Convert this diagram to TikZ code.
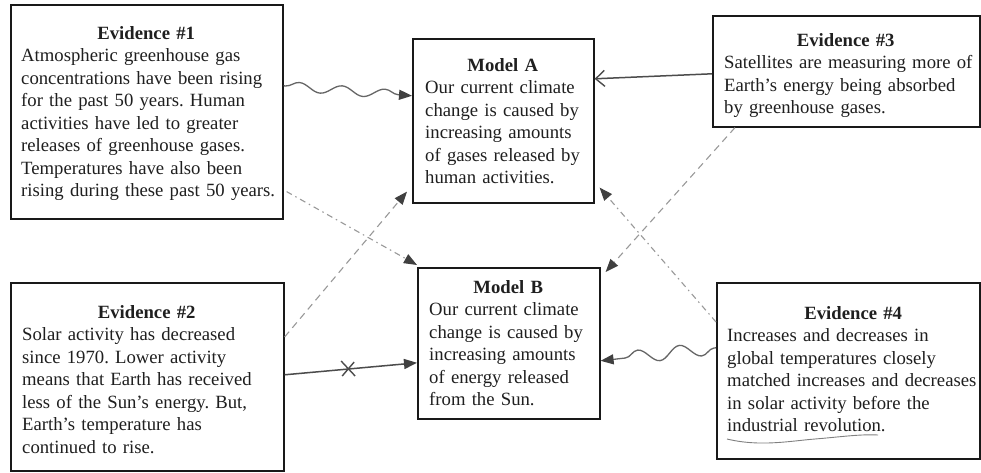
\documentclass[tikz,border=0pt]{standalone}
\usepackage{fontspec}
\setmainfont{Liberation Serif}
\usetikzlibrary{arrows.meta,decorations.pathmorphing,calc}
\begin{document}
\frenchspacing
\begin{tikzpicture}[x=1pt,y=-1pt,
  box/.style={draw=black!90, line width=1.6pt, rectangle, inner sep=0pt, anchor=north west},
  txt/.style={anchor=north west, text width=300pt, align=left, inner sep=0pt, text=black!88, font=\fontsize{18.7}{22.5}\selectfont\frenchspacing},
  tip/.style={-{Triangle[length=13pt,width=10pt,color=black!75,fill=black!75]}},
  wave/.style={draw=black!60, line width=1.3pt, tip, decorate},
  solidc/.style={draw=black!70, line width=1.5pt},
  dashc/.style={draw=black!40, line width=1.1pt, dash pattern=on 7pt off 5pt, tip},
  dotc/.style={draw=black!40, line width=1.1pt, dash pattern=on 6pt off 4pt on 1.5pt off 4pt, tip}
]
\useasboundingbox (0,0) rectangle (981,473);
\fill[white] (0,0) rectangle (981,473);

% boxes
\node[box, minimum width=272pt, minimum height=214pt] (e1) at (10,4) {};
\node[box, minimum width=181pt, minimum height=164pt] (ma) at (412,38) {};
\node[box, minimum width=267pt, minimum height=111pt] (e3) at (712,15) {};
\node[box, minimum width=273pt, minimum height=188pt] (e2) at (10,282) {};
\node[box, minimum width=182pt, minimum height=151pt] (mb) at (417,267) {};
\node[box, minimum width=263pt, minimum height=176pt] (e4) at (716,282) {};

% texts
\node[txt] (e1t) at ([xshift=11pt,yshift=-19.5pt]e1.north west) {\strut\makebox[250pt][c]{\textbf{Evidence \#1}}\\
Atmospheric greenhouse gas\\
concentrations have been rising\\
for the past 50 years. Human\\
activities have led to greater\\
releases of greenhouse gases.\\
Temperatures have also been\\
rising during these past 50 years.};

\node[txt] (mat) at ([xshift=13pt,yshift=-17.5pt]ma.north west) {\strut\makebox[155pt][c]{\textbf{Model A}}\\
Our current climate\\
change is caused by\\
increasing amounts\\
of gases released by\\
human activities.};

\node[txt] (e3t) at ([xshift=12pt,yshift=-15.5pt]e3.north west) {\strut\makebox[243pt][c]{\textbf{Evidence \#3}}\\
Satellites are measuring more of\\
Earth’s energy being absorbed\\
by greenhouse gases.};

\node[txt] (e2t) at ([xshift=12pt,yshift=-20.5pt]e2.north west) {\strut\makebox[249pt][c]{\textbf{Evidence \#2}}\\
Solar activity has decreased\\
since 1970. Lower activity\\
means that Earth has received\\
less of the Sun’s energy. But,\\
Earth’s temperature has\\
continued to rise.};

\node[txt] (mbt) at ([xshift=12pt,yshift=-10.5pt]mb.north west) {\strut\makebox[158pt][c]{\textbf{Model B}}\\
Our current climate\\
change is caused by\\
increasing amounts\\
of energy released\\
from the Sun.};

\node[txt] (e4t) at ([xshift=11pt,yshift=-21.5pt]e4.north west) {\strut\makebox[252pt][c]{\textbf{Evidence \#4}}\\
Increases and decreases in\\
global temperatures closely\\
matched increases and decreases\\
in solar activity before the\\
industrial revolution.};

% wavy underline
\draw[black!50, line width=0.9pt] (727,439) .. controls (760,447) and (790,441) .. (815,439) .. controls (840,437) and (860,434) .. (878,435);

% connectors
\draw[wave, decoration={snake, segment length=43pt, amplitude=4.5pt, pre length=2pt, post length=8pt}]
  ([yshift=26pt]e1.east) -- ([yshift=25pt]ma.west);
\draw[wave, decoration={snake, segment length=42pt, amplitude=6.5pt, pre length=2pt, post length=8pt}]
  ([yshift=23pt]e4.west) -- ([yshift=-17.5pt]mb.east);

\draw[dotc] ([xshift=3pt,yshift=28pt]e1.south east) -- ([yshift=2pt]mb.north west);
\draw[dashc] ([yshift=-55pt]e2.north east) -- ([xshift=-5pt,yshift=12pt]ma.south west);
\draw[dashc] ([xshift=23pt]e3.south west) -- ([xshift=5pt,yshift=-5pt]mb.north east);
\draw[dotc] ([yshift=-40pt]e4.north west) -- ([xshift=5pt,yshift=16pt]ma.south east);

\draw[solidc, tip] ([yshift=2pt]e2.east) -- coordinate[pos=0.48] (xm) ([yshift=-19.5pt]mb.west);
\draw[black!70, line width=1.4pt] ([xshift=-7pt,yshift=8pt]xm) -- ([xshift=7pt,yshift=-7pt]xm)
  ([xshift=-6pt,yshift=-7pt]xm) -- ([xshift=6pt,yshift=7pt]xm);
\draw[solidc, -{Straight Barb[length=9pt,width=16pt,line width=1.4pt]}] ([yshift=-2.5pt]e3.west) -- ([yshift=42pt]ma.east);
\end{tikzpicture}
\end{document}
